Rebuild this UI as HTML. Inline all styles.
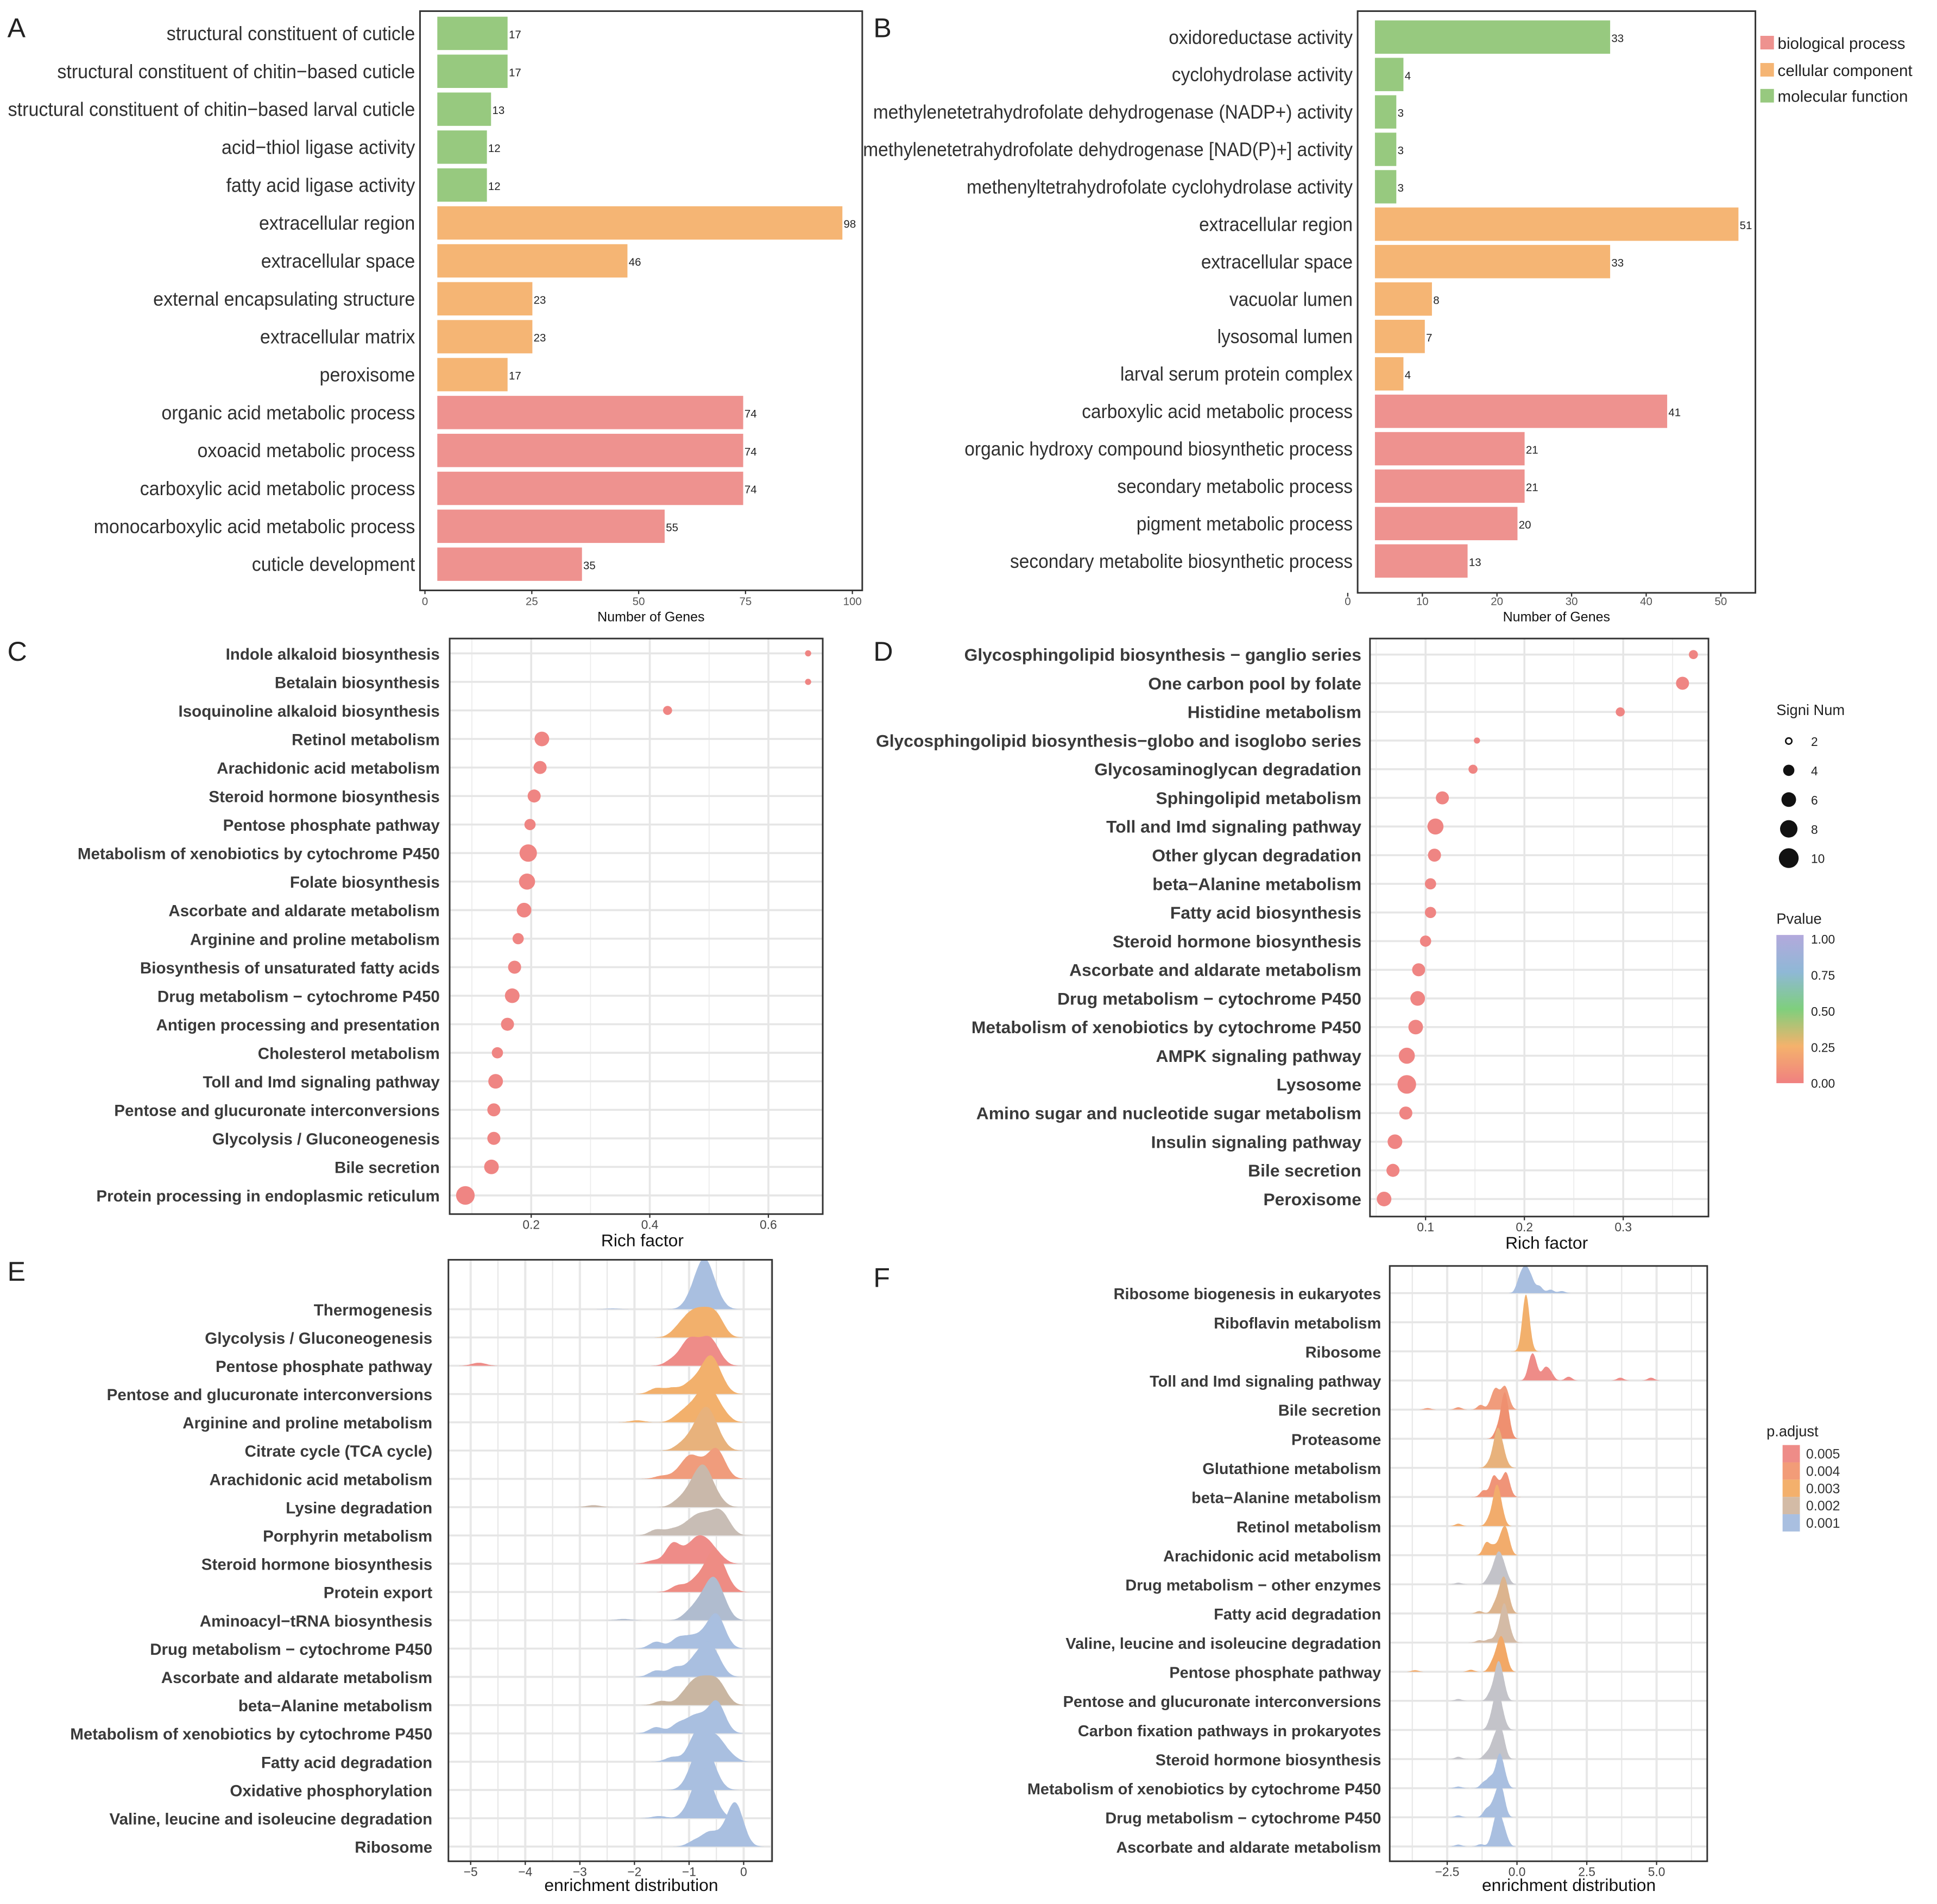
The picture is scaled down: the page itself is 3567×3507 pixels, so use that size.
<!DOCTYPE html>
<html><head><meta charset="utf-8"><style>
html,body{margin:0;padding:0;background:#fff;}
svg{display:block;}
text{font-family:"Liberation Sans",sans-serif;}
</style></head><body>
<svg id="fig" xmlns="http://www.w3.org/2000/svg" width="3567" height="3507" viewBox="0 0 1568 1541.6">
<rect width="1568" height="1542" fill="#fff"/>
<defs>
<clipPath id="clipE"><rect x="363" y="1020" width="262" height="487"/></clipPath>
<clipPath id="clipF"><rect x="1125" y="1025" width="257" height="482"/></clipPath>
<linearGradient id="pgrad" x1="0" y1="0" x2="0" y2="1">
<stop offset="0" stop-color="#b3a9dc"/><stop offset="0.25" stop-color="#8fb8d6"/><stop offset="0.5" stop-color="#7fcf7d"/><stop offset="0.75" stop-color="#f4b26c"/><stop offset="1" stop-color="#f08080"/>
</linearGradient>
</defs>
<g id="root"></g>
</svg>
<script>
// ---------- DATA ----------
const catA = ["structural constituent of cuticle","structural constituent of chitin−based cuticle","structural constituent of chitin−based larval cuticle","acid−thiol ligase activity","fatty acid ligase activity","extracellular region","extracellular space","external encapsulating structure","extracellular matrix","peroxisome","organic acid metabolic process","oxoacid metabolic process","carboxylic acid metabolic process","monocarboxylic acid metabolic process","cuticle development"];
const valA = [17,17,13,12,12,98,46,23,23,17,74,74,74,55,35];
const grpA = ["mf","mf","mf","mf","mf","cc","cc","cc","cc","cc","bp","bp","bp","bp","bp"];
const ticksA = [0,25,50,75,100];

const catB = ["oxidoreductase activity","cyclohydrolase activity","methylenetetrahydrofolate dehydrogenase (NADP+) activity","methylenetetrahydrofolate dehydrogenase [NAD(P)+] activity","methenyltetrahydrofolate cyclohydrolase activity","extracellular region","extracellular space","vacuolar lumen","lysosomal lumen","larval serum protein complex","carboxylic acid metabolic process","organic hydroxy compound biosynthetic process","secondary metabolic process","pigment metabolic process","secondary metabolite biosynthetic process"];
const valB = [33,4,3,3,3,51,33,8,7,4,41,21,21,20,13];
const grpB = ["mf","mf","mf","mf","mf","cc","cc","cc","cc","cc","bp","bp","bp","bp","bp"];
const ticksB = [0,10,20,30,40,50];

const catC = ["Indole alkaloid biosynthesis","Betalain biosynthesis","Isoquinoline alkaloid biosynthesis","Retinol metabolism","Arachidonic acid metabolism","Steroid hormone biosynthesis","Pentose phosphate pathway","Metabolism of xenobiotics by cytochrome P450","Folate biosynthesis","Ascorbate and aldarate metabolism","Arginine and proline metabolism","Biosynthesis of unsaturated fatty acids","Drug metabolism − cytochrome P450","Antigen processing and presentation","Cholesterol metabolism","Toll and Imd signaling pathway","Pentose and glucuronate interconversions","Glycolysis / Gluconeogenesis","Bile secretion","Protein processing in endoplasmic reticulum"];
const richC = [0.667,0.667,0.43,0.218,0.215,0.205,0.198,0.195,0.193,0.188,0.178,0.172,0.168,0.16,0.143,0.14,0.137,0.137,0.133,0.089];
const numC = [2,2,3,6,5,5,4,8,7,6,4,5,6,5,4,6,5,5,6,9];
const ticksC = [0.2,0.4,0.6];

const catD = ["Glycosphingolipid biosynthesis − ganglio series","One carbon pool by folate","Histidine metabolism","Glycosphingolipid biosynthesis−globo and isoglobo series","Glycosaminoglycan degradation","Sphingolipid metabolism","Toll and Imd signaling pathway","Other glycan degradation","beta−Alanine metabolism","Fatty acid biosynthesis","Steroid hormone biosynthesis","Ascorbate and aldarate metabolism","Drug metabolism − cytochrome P450","Metabolism of xenobiotics by cytochrome P450","AMPK signaling pathway","Lysosome","Amino sugar and nucleotide sugar metabolism","Insulin signaling pathway","Bile secretion","Peroxisome"];
const richD = [0.371,0.36,0.297,0.152,0.148,0.117,0.11,0.109,0.105,0.105,0.1,0.093,0.092,0.09,0.081,0.081,0.08,0.069,0.067,0.058];
const numD = [3,5,3,2,3,5,7,5,4,4,4,5,6,6,7,9,5,6,5,6];
const ticksD = [0.1,0.2,0.3];
const sizeLegend = [2,4,6,8,10];
const pLegend = ["1.00","0.75","0.50","0.25","0.00"];

const catE = ["Thermogenesis","Glycolysis / Gluconeogenesis","Pentose phosphate pathway","Pentose and glucuronate interconversions","Arginine and proline metabolism","Citrate cycle (TCA cycle)","Arachidonic acid metabolism","Lysine degradation","Porphyrin metabolism","Steroid hormone biosynthesis","Protein export","Aminoacyl−tRNA biosynthesis","Drug metabolism − cytochrome P450","Ascorbate and aldarate metabolism","beta−Alanine metabolism","Metabolism of xenobiotics by cytochrome P450","Fatty acid degradation","Oxidative phosphorylation","Valine, leucine and isoleucine degradation","Ribosome"];
const colE = ["#a9bfe0","#f2b06c","#ee8c88","#f2b06c","#f2b06c","#e8b27c","#f09c7c","#c9b8aa","#c8bdb5","#ee8c88","#ee8c84","#b0bccf","#a9bfe0","#a9bfe0","#c9b6a2","#a9bfe0","#a9bfe0","#a9bfe0","#a9bfe0","#a9bfe0"];
// [gene value, weight]
const genesE = [
 [[-2.4,0.15],[-1.0,1],[-0.9,2],[-0.8,3],[-0.72,4],[-0.65,3],[-0.55,2],[-0.45,1]],
 [[-1.25,1],[-1.1,2],[-0.95,3],[-0.8,3],[-0.65,3],[-0.5,3],[-0.4,1]],
 [[-4.85,0.5],[-1.3,1],[-1.05,3],[-0.9,2],[-0.75,2],[-0.6,3],[-0.45,1]],
 [[-1.6,1],[-1.3,1],[-1.0,1.5],[-0.8,2],[-0.65,3],[-0.55,3],[-0.4,1.5]],
 [[-1.95,0.35],[-1.2,1],[-1.0,2],[-0.8,3],[-0.65,4],[-0.5,2],[-0.35,1]],
 [[-1.15,1],[-0.95,2],[-0.8,3],[-0.68,4],[-0.55,3],[-0.4,1]],
 [[-1.5,0.5],[-1.2,1],[-1.0,3],[-0.8,2],[-0.6,2],[-0.48,3],[-0.35,1]],
 [[-2.75,0.35],[-1.2,1],[-1.0,2],[-0.85,3],[-0.72,4],[-0.6,2],[-0.45,1]],
 [[-1.6,1],[-1.3,1],[-1.05,1.5],[-0.85,2.5],[-0.65,2.5],[-0.45,3],[-0.3,1.5]],
 [[-1.65,0.5],[-1.3,3],[-1.05,1.5],[-0.85,3],[-0.65,2.5],[-0.45,1]],
 [[-1.2,1],[-0.9,1.5],[-0.7,2],[-0.55,4],[-0.42,2],[-0.3,1]],
 [[-2.2,0.2],[-1.0,1],[-0.8,2],[-0.62,3],[-0.5,3],[-0.35,1.5]],
 [[-1.6,1],[-1.2,1.5],[-0.95,1.5],[-0.7,2],[-0.5,4],[-0.35,1]],
 [[-1.6,1],[-1.25,1.5],[-0.95,2],[-0.75,3],[-0.6,3],[-0.45,1.5]],
 [[-1.5,0.7],[-1.1,1.5],[-0.9,3],[-0.7,3],[-0.5,3],[-0.35,1.2]],
 [[-1.6,1],[-1.2,1.5],[-0.95,2],[-0.75,2],[-0.52,4],[-0.38,1.5]],
 [[-1.3,0.8],[-0.95,2],[-0.8,4],[-0.6,2.5],[-0.45,2.5],[-0.25,1]],
 [[-1.0,1.5],[-0.85,3],[-0.75,4],[-0.65,3],[-0.5,1.5]],
 [[-1.55,0.4],[-1.0,1.5],[-0.85,3],[-0.75,4],[-0.65,3],[-0.5,1.5]],
 [[-0.9,0.7],[-0.65,1.5],[-0.45,1],[-0.25,2],[-0.15,3],[-0.05,1.5]]
];
const ticksE = [-5,-4,-3,-2,-1,0];

const catF = ["Ribosome biogenesis in eukaryotes","Riboflavin metabolism","Ribosome","Toll and Imd signaling pathway","Bile secretion","Proteasome","Glutathione metabolism","beta−Alanine metabolism","Retinol metabolism","Arachidonic acid metabolism","Drug metabolism − other enzymes","Fatty acid degradation","Valine, leucine and isoleucine degradation","Pentose phosphate pathway","Pentose and glucuronate interconversions","Carbon fixation pathways in prokaryotes","Steroid hormone biosynthesis","Metabolism of xenobiotics by cytochrome P450","Drug metabolism − cytochrome P450","Ascorbate and aldarate metabolism"];
const colF = ["#a9bfe0","#f2b06c","#f2b06c","#ee8c88","#f09c7c","#ef9070","#e8b27c","#f09478","#f2ac6c","#f2ac6c","#c3c3c9","#dcb48e","#d4bba6","#f2a866","#c3c3c9","#c3c3c9","#c3c3c9","#a9bfe0","#a9bfe0","#a9bfe0"];
const genesF = [
 [[0.1,2],[0.3,3],[0.5,2],[0.8,1],[1.2,0.5],[1.6,0.3]],
 [],
 [[0.25,1],[0.32,3],[0.4,1]],
 [[0.5,2],[0.65,1.5],[1.0,1.2],[1.2,0.8],[1.85,0.4],[3.7,0.3],[4.8,0.3]],
 [[-3.2,0.2],[-2.1,0.3],[-1.3,0.6],[-0.9,1],[-0.75,2],[-0.55,1],[-0.42,2],[-0.3,0.6]],
 [[-0.7,1],[-0.5,2],[-0.42,3],[-0.3,1]],
 [[-1.0,0.6],[-0.8,2],[-0.68,3],[-0.55,2],[-0.4,0.6]],
 [[-1.2,0.7],[-0.85,2],[-0.65,1],[-0.42,2],[-0.3,0.8]],
 [[-2.1,0.3],[-1.0,0.8],[-0.8,2],[-0.7,3],[-0.55,1.5]],
 [[-1.1,1.5],[-0.85,1],[-0.6,1.5],[-0.43,2.5],[-0.3,1]],
 [[-2.1,0.25],[-1.0,1],[-0.8,2],[-0.65,3],[-0.5,2],[-0.35,0.8]],
 [[-1.35,0.3],[-0.8,1],[-0.6,2],[-0.45,3],[-0.3,1.2]],
 [[-1.35,0.3],[-1.0,0.4],[-0.7,1],[-0.5,3],[-0.4,2],[-0.25,1]],
 [[-3.65,0.2],[-1.65,0.25],[-0.9,1],[-0.7,2],[-0.55,3],[-0.4,1.5]],
 [[-2.1,0.25],[-0.95,1],[-0.75,2],[-0.65,3],[-0.5,2]],
 [[-0.95,1],[-0.8,2],[-0.7,3],[-0.6,2],[-0.45,0.8]],
 [[-2.1,0.3],[-1.1,0.7],[-0.85,2],[-0.65,3],[-0.5,2]],
 [[-2.1,0.25],[-1.2,0.8],[-0.95,1.5],[-0.7,2],[-0.6,3],[-0.45,1.5]],
 [[-2.1,0.25],[-1.1,1],[-0.85,1.5],[-0.65,3],[-0.5,2]],
 [[-2.1,0.25],[-1.3,0.3],[-0.85,1.5],[-0.7,3],[-0.55,2],[-0.4,1]]
];
const ticksF = [-2.5,0,2.5,5];
const padjLegend = ["0.005","0.004","0.003","0.002","0.001"];
const padjCols = ["#ee8c88","#f29c78","#f3b06c","#d3bba6","#a9bfe0"];

// ---------- HELPERS ----------
const NS = "http://www.w3.org/2000/svg";
const root = document.getElementById("root");
function mk(tag, attrs, parent){
  const el = document.createElementNS(NS, tag);
  for (const k in attrs) el.setAttribute(k, attrs[k]);
  (parent || root).appendChild(el);
  return el;
}
function txt(s, x, y, size, anchor, weight, fill, parent){
  const t = mk("text", {x:x, y:y, "font-size":size, "text-anchor":anchor||"start", "font-weight":weight||"normal", fill:fill||"#333"}, parent);
  t.textContent = s;
  return t;
}
function ctxt(s, x, y, size, sx, parent){
  const t = mk("text", {x:0, y:0, transform:"translate(" + x + "," + y + ") scale(" + sx + ",1)", "font-size":size, "text-anchor":"end", fill:"#303030"}, parent);
  t.textContent = s;
  return t;
}
const gcol = {bp:"#ee928f", cc:"#f5b574", mf:"#97c97f"};
const dotCol = "#ef8583";
function rad(n){ return Math.sqrt(Math.max(1.5, 7.22*n - 8.2)); }

[["A",6,30],["B",707,30],["C",6,535],["D",707,535],["E",6,1037],["F",707,1042]].forEach(p=>{
  const t = txt(p[0], p[1], p[2], 22, "start", "normal", "#222");
  
  
});

// ---------- PANEL A ----------
(function(){
  const g = mk("g", {});
  
  
  const xBar = v => 354 + v*3.346;
  const xTick = t => 344 + t*3.46;
  const yRow = i => 27 + i*30.7;
  const fr = mk("rect", {x:340, y:9, width:358, height:469, fill:"none", stroke:"#333", "stroke-width":1.3}, g);
  
  
  catA.forEach((c,i)=>{
    const r = mk("rect", {x:xBar(0), y:yRow(i)-13.5, width:xBar(valA[i])-xBar(0), height:27, fill:gcol[grpA[i]]}, g);
    
    
    const l = ctxt(c, 336, yRow(i)+5.5, 16, 0.935, g);
    
    
    const v = txt(String(valA[i]), xBar(valA[i])+1, yRow(i)+4, 9, "start", "normal", "#222", g);
    
    
  });
  ticksA.forEach(t=>{
    const k = mk("line", {x1:xTick(t), x2:xTick(t), y1:478, y2:481, stroke:"#333"}, g);
    
    
    const l = txt(String(t), xTick(t), 490, 9, "middle", "normal", "#555", g);
    
    
  });
  const tt = txt("Number of Genes", 527, 503, 11, "middle", "normal", "#111", g);
  
  
})();

// ---------- PANEL B ----------
(function(){
  const g = mk("g", {});
  
  
  const xBar = v => 1113 + v*5.77;
  const xTick = t => 1091 + t*6.04;
  const yRow = i => 30 + i*30.3;
  const fr = mk("rect", {x:1099, y:9, width:322, height:471, fill:"none", stroke:"#333", "stroke-width":1.3}, g);
  
  
  catB.forEach((c,i)=>{
    const r = mk("rect", {x:xBar(0), y:yRow(i)-13.5, width:xBar(valB[i])-xBar(0), height:27, fill:gcol[grpB[i]]}, g);
    
    
    const l = ctxt(c, 1095, yRow(i)+5.5, 16, 0.92, g);
    
    
    const v = txt(String(valB[i]), xBar(valB[i])+1, yRow(i)+4, 9, "start", "normal", "#222", g);
    
    
  });
  ticksB.forEach(t=>{
    const k = mk("line", {x1:xTick(t), x2:xTick(t), y1:480, y2:483, stroke:"#333"}, g);
    
    
    const l = txt(String(t), xTick(t), 490, 9, "middle", "normal", "#555", g);
    
    
  });
  const tt = txt("Number of Genes", 1260, 503, 11, "middle", "normal", "#111", g);
  
  
  [["biological process","bp",35],["cellular component","cc",57],["molecular function","mf",78]].forEach(e=>{
    const s = mk("rect", {x:1425, y:e[2]-6, width:11, height:11, fill:gcol[e[1]]}, g);
    
    
    const l = txt(e[0], 1439, e[2]+4.5, 13, "start", "normal", "#222", g);
    
    
  });
})();

// ---------- DOT PANELS ----------
function dotPanel(id, cats, rich, nums, ticks, frame, x0, xs, y0, dy, labX, labSize, title, titleX){
  const g = mk("g", {});
  
  
  const xS = v => x0 + v*xs;
  const yS = i => y0 + i*dy;
  const bg = mk("rect", {x:frame[0], y:frame[1], width:frame[2]-frame[0], height:frame[3]-frame[1], fill:"#fff"}, g);
  
  
  for (let k=0;k<ticks.length;k++){
    const mv = ticks[k] - (ticks[1]-ticks[0])/2;
    const ml = mk("line", {x1:xS(mv), x2:xS(mv), y1:frame[1], y2:frame[3], stroke:"#ececec", "stroke-width":0.8}, g);
    
    
  }
  const last = ticks[ticks.length-1] + (ticks[1]-ticks[0])/2;
  if (xS(last) < frame[2]) {
    const ml = mk("line", {x1:xS(last), x2:xS(last), y1:frame[1], y2:frame[3], stroke:"#ececec", "stroke-width":0.8}, g);
    
    
  }
  ticks.forEach(t=>{
    const gl = mk("line", {x1:xS(t), x2:xS(t), y1:frame[1], y2:frame[3], stroke:"#e6e6e6", "stroke-width":1.6}, g);
    
    
    const k = mk("line", {x1:xS(t), x2:xS(t), y1:frame[3], y2:frame[3]+3, stroke:"#333"}, g);
    
    
    const l = txt(String(t), xS(t), frame[3]+12, 10, "middle", "normal", "#444", g);
    
    
  });
  cats.forEach((c,i)=>{
    const hl = mk("line", {x1:frame[0], x2:frame[2], y1:yS(i), y2:yS(i), stroke:"#e6e6e6", "stroke-width":1.6}, g);
    
    
  });
  cats.forEach((c,i)=>{
    const d = mk("circle", {cx:xS(rich[i]), cy:yS(i), r:rad(nums[i]), fill:dotCol}, g);
    
    
    const l = txt(c, labX, yS(i)+5, labSize, "end", "bold", "#3a3a3a", g);
    
    
  });
  const fr = mk("rect", {x:frame[0], y:frame[1], width:frame[2]-frame[0], height:frame[3]-frame[1], fill:"none", stroke:"#333", "stroke-width":1.3}, g);
  
  
  const tt = txt(title, titleX, frame[3]+26, 14, "middle", "normal", "#111", g);
  
  
}
dotPanel("c", catC, richC, numC, ticksC, [364,517,666,983], 334, 480, 529, 23.1, 356, 13, "Rich factor", 520);
dotPanel("d", catD, richD, numD, ticksD, [1109,517,1383,985], 1074, 800, 530, 23.2, 1102, 14, "Rich factor", 1252);

(function(){
  const g = mk("g", {});
  
  
  const st = txt("Signi Num", 1438, 579, 12, "start", "normal", "#222", g);
  
  
  sizeLegend.forEach((n,k)=>{
    const y = 600 + k*23.7;
    const c = mk("circle", {cx:1448, cy:y, r:rad(n), fill: n===2 ? "#fff" : "#111", stroke:"#111", "stroke-width": n===2 ? 1.2 : 0}, g);
    
    
    const l = txt(String(n), 1466, y+4, 10, "start", "normal", "#222", g);
    
    
  });
  const pt = txt("Pvalue", 1438, 748, 12, "start", "normal", "#222", g);
  
  
  const bar = mk("rect", {x:1438, y:757, width:22, height:120, fill:"url(#pgrad)"}, g);
  
  
  pLegend.forEach((p,k)=>{
    const y = 760 + k*29.2;
    const l = txt(p, 1466, y+4, 10, "start", "normal", "#222", g);
    
    
  });
})();

// ---------- RIDGE PANELS ----------
function kde(arr, x, bw){
  if (!arr.length) return 0;
  let s = 0, wsum = 0;
  for (const p of arr){ const z = (x - p[0])/bw; s += p[1]*Math.exp(-0.5*z*z); wsum += p[1]; }
  return s/(wsum*bw*2.5066);
}
function ridgePanel(id, cats, genes, cols, ticks, frame, x0, xs, y0, dy, labX, labSize, bw, xmin, xmax, target, clip, titleX){
  const g = mk("g", {});
  
  
  const xS = v => x0 + v*xs;
  const yS = i => y0 + i*dy;
  const step = ticks[1]-ticks[0];
  for (let v = ticks[0]-step; v <= ticks[ticks.length-1]+2*step; v += step/2){
    const px = xS(v);
    if (px <= frame[0] || px >= frame[2]) continue;
    const major = Math.abs((v - ticks[0])/step - Math.round((v - ticks[0])/step)) < 1e-6;
    const gl = mk("line", {x1:px, x2:px, y1:frame[1], y2:frame[3], stroke:"#e8e8e8", "stroke-width": major ? 1.8 : 1.0}, g);
    
    
  }
  cats.forEach((c,i)=>{
    const hl = mk("line", {x1:frame[0], x2:frame[2], y1:yS(i), y2:yS(i), stroke:"#e6e6e6", "stroke-width":1.6}, g);
    
    
  });
  let gmax = 0;
  const dens = genes.map(arr=>{
    const pts = [];
    for (let x = xmin; x <= xmax; x += 0.02){ const d = kde(arr, x, bw); pts.push([x,d]); if (d > gmax) gmax = d; }
    return pts;
  });
  const K = target / gmax;
  const rg = mk("g", {"clip-path":"url(#" + clip + ")"}, g);
  
  
  dens.forEach((pts,i)=>{
    if (!genes[i].length) return;
    let d = "M" + xS(pts[0][0]).toFixed(1) + "," + yS(i).toFixed(1);
    pts.forEach(p=>{ d += "L" + xS(p[0]).toFixed(1) + "," + (yS(i) - p[1]*K).toFixed(1); });
    d += "L" + xS(pts[pts.length-1][0]).toFixed(1) + "," + yS(i).toFixed(1) + "Z";
    const r = mk("path", {d:d, fill:cols[i]}, rg);
    
    
  });
  cats.forEach((c,i)=>{
    const l = txt(c, labX, yS(i)+5, labSize, "end", "bold", "#3a3a3a", g);
    
    
  });
  ticks.forEach(t=>{
    const k = mk("line", {x1:xS(t), x2:xS(t), y1:frame[3], y2:frame[3]+3, stroke:"#333"}, g);
    
    
    const lab = (id === "f") ? (t < 0 ? "−" + Math.abs(t).toFixed(1) : t.toFixed(1)) : (t < 0 ? "−" + Math.abs(t) : String(t));
    const l = txt(lab, xS(t), frame[3]+12, 10, "middle", "normal", "#444", g);
    
    
  });
  const fr = mk("rect", {x:frame[0], y:frame[1], width:frame[2]-frame[0], height:frame[3]-frame[1], fill:"none", stroke:"#333", "stroke-width":1.3}, g);
  
  
  const tt = txt("enrichment distribution", titleX, frame[3]+24, 14, "middle", "normal", "#111", g);
  
  
}
ridgePanel("e", catE, genesE, colE, ticksE, [363,1020,625,1507], 602, 44.2, 1060, 22.9, 350, 13, 0.13, -5.4, 0.6, 42, "clipE", 511);
ridgePanel("f", catF, genesF, colF, ticksF, [1125,1025,1382,1507], 1228, 22.6, 1047, 23.58, 1118, 12.7, 0.12, -4.4, 6.5, 46, "clipF", 1270);

(function(){
  const g = mk("g", {});
  
  
  const t = txt("p.adjust", 1430, 1163, 12, "start", "normal", "#222", g);
  
  
  padjLegend.forEach((p,k)=>{
    const y = 1170 + k*14;
    const s = mk("rect", {x:1443, y:y, width:14, height:14, fill:padjCols[k]}, g);
    
    
    const l = txt(p, 1462, y+11, 11, "start", "normal", "#333", g);
    
    
  });
})();
</script>
</body></html>
